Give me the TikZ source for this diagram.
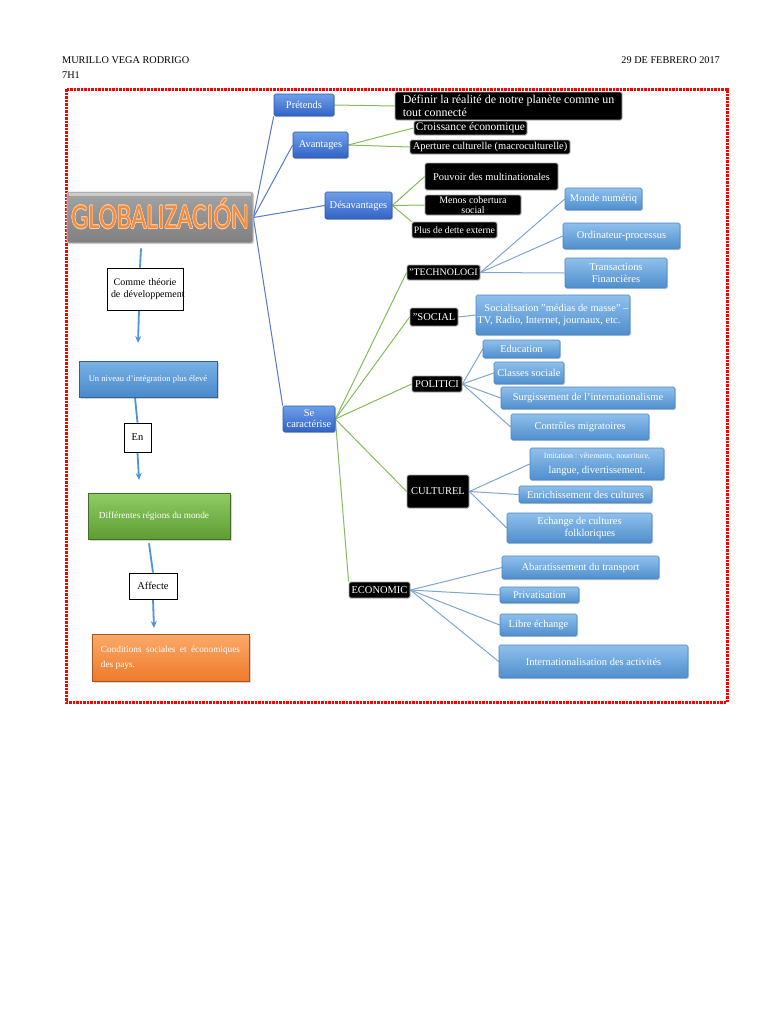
\documentclass[tikz,border=0pt]{standalone}
\usepackage{fontspec}
\usepackage{graphicx}
\usepackage{contour}
\setmainfont{Liberation Serif}
\newfontfamily\globfont{Carlito}
\usetikzlibrary{arrows.meta,shadows}
\pgfdeclarelayer{bg}
\pgfsetlayers{bg,main}
\definecolor{dbT}{HTML}{6E9FEA}
\definecolor{dbB}{HTML}{3263C6}
\definecolor{dbD}{HTML}{2C58A8}
\definecolor{lbT}{HTML}{8FC0EC}
\definecolor{lbB}{HTML}{4F8ECD}
\definecolor{lbD}{HTML}{4A85C0}
\definecolor{cA}{HTML}{5A78C8}
\definecolor{cG}{HTML}{86BC5A}
\definecolor{cL}{HTML}{7FA5D2}
\definecolor{cArr}{HTML}{4D94DB}
\definecolor{orT}{HTML}{FBAA6A}
\definecolor{orB}{HTML}{EE7A2A}
\definecolor{grT}{HTML}{90CC64}
\definecolor{grB}{HTML}{5E9C34}
\definecolor{nvT}{HTML}{78B1E5}
\definecolor{nvB}{HTML}{4A8ACB}
\definecolor{globtxt}{HTML}{F28C3C}
\definecolor{globout}{HTML}{F9C9A2}
\definecolor{gT}{HTML}{A3A3A3}
\definecolor{gB}{HTML}{808080}
\contourlength{0.7bp}
\newcommand\bx[7]{\node[minimum width={(#4-#2)*1bp}, minimum height={(#5-#3)*1bp}, #6] (#1) at ({(#2+#4)/2},{(#3+#5)/2}) {#7};}
\tikzset{
  every node/.append style={inner sep=1bp, font=\fontsize{10.5}{11.5}\selectfont},
  dblue/.style={top color=dbT, bottom color=dbB, draw=dbD, line width=0.6bp, text=white, rounded corners=1.5bp,
    drop shadow={shadow xshift=1bp, shadow yshift=-1bp, opacity=0.35}},
  lblue/.style={top color=lbT, bottom color=lbB, draw=lbD, line width=0.6bp, text=white, rounded corners=1.5bp,
    drop shadow={shadow xshift=1bp, shadow yshift=-1bp, opacity=0.3}},
  blk/.style={fill=black, draw=gray!65, line width=0.8bp, text=white, rounded corners=1.5bp},
  lbox/.style={fill=white, draw=black, line width=0.8bp},
  gbox/.style={top color=gT, bottom color=gB, draw=gray!45, line width=0.8bp, rounded corners=2bp,
    drop shadow={shadow xshift=1bp, shadow yshift=-1bp, opacity=0.3}},
  nbox/.style={top color=nvT, bottom color=nvB, draw=nvB!70!black, line width=0.6bp, text=white,
    drop shadow={shadow xshift=1.5bp, shadow yshift=-1.5bp, opacity=0.35}},
  grbox/.style={top color=grT, bottom color=grB, draw=grB!70!black, line width=0.6bp, text=white,
    drop shadow={shadow xshift=1.5bp, shadow yshift=-1.5bp, opacity=0.35}},
  obox/.style={top color=orT, bottom color=orB, draw=orB!70!black, line width=0.6bp, text=white,
    drop shadow={shadow xshift=1.5bp, shadow yshift=-1.5bp, opacity=0.35}},
  lA/.style={draw=cA, line width=1bp},
  lG/.style={draw=cG, line width=1bp},
  lL/.style={draw=cL, line width=1bp},
  arrln/.style={draw=cArr, line width=1.8bp},
  arrtip/.style={draw=cArr, line width=1.8bp, -{Stealth[length=7bp,width=6bp]}},
  hdr/.style={font=\fontsize{10.3}{12}\selectfont, inner sep=0pt}
}
\begin{document}
\begin{tikzpicture}[x=1bp,y=-1bp]
\useasboundingbox (0,0) rectangle (768,1024);

% header
\node[hdr, anchor=base west] (h1) at (62,63) {MURILLO VEGA RODRIGO};
\node[hdr, anchor=base west] (h2) at (62,78) {7H1};
\node[hdr, anchor=base east] (h3) at (720,63) {29 DE FEBRERO 2017};

% frame
\draw[red, line width=3bp, dash pattern=on 2.5bp off 1bp] (66,89) rectangle (727,702);

% main node
\bx{glob}{67}{192}{253}{243}{gbox, text height=22bp, text depth=0bp, text=globtxt}{\scalebox{0.77}[1]{\globfont\fontsize{35}{35}\selectfont\contour{globout}{GLOBALIZACIÓN}}}
\fill[white, opacity=0.45] ([xshift=2bp,yshift=-1bp]glob.north west) rectangle ([xshift=-2bp,yshift=-4bp]glob.north east);

% level 1
\bx{pret}{274}{94}{334}{116}{dblue}{Prétends}
\bx{avan}{293}{132}{348}{158}{dblue}{Avantages}
\bx{desa}{325}{192}{392}{219}{dblue}{Désavantages}
\bx{se}{283}{406}{335}{432}{dblue, align=center, font=\fontsize{10.5}{11}\selectfont}{Se\\caractérise}

% level 2 (black)
\bx{defi}{395}{92}{622}{120}{blk, align=left, font=\fontsize{12}{13}\selectfont}{Définir la réalité de notre planète comme un\\tout connecté}
\bx{croi}{414}{121}{527}{135}{blk, font=\fontsize{11.5}{12}\selectfont}{Croissance économique}
\bx{aper}{410}{140}{570}{154}{blk, font=\fontsize{10.5}{11}\selectfont}{Aperture culturelle (macroculturelle)}
\bx{pouv}{425}{163}{558}{190}{blk}{Pouvoir des multinationales}
\bx{meno}{425}{195}{521}{215}{blk, align=center, font=\fontsize{10}{10}\selectfont}{Menos cobertura\\social}
\bx{plus}{412}{222}{497}{238}{blk, font=\fontsize{9.8}{10}\selectfont}{Plus de dette externe}
\bx{tech}{407}{265}{480}{280}{blk, font=\fontsize{10}{10}\selectfont}{"TECHNOLOGI}
\bx{soci}{410}{308}{458}{326}{blk}{"SOCIAL}
\bx{poli}{412}{376}{462}{392}{blk}{POLITICI}
\bx{cult}{407}{475}{469}{508}{blk}{CULTUREL}
\bx{econ}{349}{582}{410}{598}{blk}{ECONOMIC}

% level 3 (light blue)
\bx{mond}{565}{188}{642}{210}{lblue}{Monde numériq}
\bx{ordi}{563}{223}{680}{249}{lblue}{Ordinateur-processus}
\bx{tran}{565}{258}{667}{288}{lblue, align=center}{Transactions\\Financières}
\bx{socl}{476}{295}{630}{335}{lblue, align=left}{\hspace{7bp}Socialisation "médias de masse" –\\TV, Radio, Internet, journaux, etc.}
\bx{educ}{483}{340}{560}{358}{lblue}{Education}
\bx{clas}{494}{362}{564}{384}{lblue}{Classes sociale}
\bx{surg}{501}{387}{675}{409}{lblue}{Surgissement de l'internationalisme}
\bx{cont}{511}{414}{649}{440}{lblue}{Contrôles migratoires}
\bx{imit}{530}{448}{664}{480}{lblue, align=center, font=\fontsize{10.5}{12}\selectfont}{{\fontsize{8}{8}\selectfont Imitation : vêtements, nourriture,}\\[3bp]langue, divertissement.}
\bx{enri}{519}{486}{652}{503}{lblue}{Enrichissement des cultures}
\bx{echa}{507}{513}{652}{543}{lblue, align=center}{Echange de cultures\qquad\\\qquad folkloriques}
\bx{abar}{502}{556}{659}{579}{lblue}{Abaratissement du transport}
\bx{priv}{500}{587}{579}{603}{lblue}{Privatisation}
\bx{libr}{500}{614}{577}{636}{lblue}{Libre échange}
\bx{inte}{499}{645}{688}{678}{lblue}{Internationalisation des activités}

% left column
\bx{comm}{107}{268}{183}{310}{lbox, text width=68bp, align=center, font=\fontsize{10}{12.5}\selectfont}{Comme théorie\\\mbox{de développement}}
\bx{nive}{79}{361}{217}{397}{nbox, font=\fontsize{8.6}{10}\selectfont}{Un niveau d'intégration plus élevé}
\bx{en}{124}{423}{151}{452}{lbox}{En}
\bx{diff}{88}{493}{230}{539}{grbox, font=\fontsize{9.3}{10}\selectfont}{\hspace{-10bp}Différentes régions du monde}
\bx{affe}{129}{573}{177}{599}{lbox}{Affecte}
\bx{cond}{92}{634}{249}{681}{obox, align=left, font=\fontsize{9.3}{15}\selectfont}{\makebox[139bp][s]{Conditions sociales et économiques}\\des pays.}

\coordinate (a1) at (138,343);
\coordinate (a2) at (139,480);
\coordinate (a3) at (154,628);

\begin{pgfonlayer}{bg}
  % left arrows
  \draw[arrln] ([xshift=-19bp,yshift=-5bp]glob.south) -- ([xshift=-5bp]comm.north);
  \draw[arrtip] ([xshift=-6bp]comm.south) -- (a1);
  \draw[arrln] ([xshift=-13bp]nive.south) -- (en.north);
  \draw[arrtip] (en.south) -- (a2);
  \draw[arrln] ([xshift=-10bp,yshift=-4bp]diff.south) -- (affe.north);
  \draw[arrtip] (affe.south) -- (a3);
  % main blue lines
  \draw[lA] (glob.east) -- (pret.south west);
  \draw[lA] (glob.east) -- (avan.west);
  \draw[lA] (glob.east) -- (desa.west);
  \draw[lA] (glob.east) -- (se.north west);
  % green lines
  \draw[lG] (pret.east) -- (defi.west);
  \draw[lG] (avan.east) -- (croi.west);
  \draw[lG] (avan.east) -- (aper.west);
  \draw[lG] (desa.east) -- (pouv.west);
  \draw[lG] (desa.east) -- (meno.west);
  \draw[lG] (desa.east) -- (plus.north west);
  \draw[lG] (se.east) -- (tech.west);
  \draw[lG] (se.east) -- (soci.west);
  \draw[lG] (se.east) -- (poli.west);
  \draw[lG] (se.east) -- (cult.west);
  \draw[lG] (se.east) -- (econ.north west);
  % light blue lines
  \draw[lL] (tech.east) -- (mond.west);
  \draw[lL] (tech.east) -- (ordi.west);
  \draw[lL] (tech.east) -- (tran.west);
  \draw[lL] (soci.east) -- (socl.west);
  \draw[lL] (poli.east) -- (educ.west);
  \draw[lL] (poli.east) -- (clas.west);
  \draw[lL] (poli.east) -- (surg.west);
  \draw[lL] (poli.east) -- (cont.west);
  \draw[lL] (cult.east) -- (imit.west);
  \draw[lL] (cult.east) -- (enri.west);
  \draw[lL] (cult.east) -- (echa.west);
  \draw[lL] (econ.east) -- (abar.west);
  \draw[lL] (econ.east) -- (priv.west);
  \draw[lL] (econ.east) -- (libr.west);
  \draw[lL] (econ.east) -- (inte.west);
\end{pgfonlayer}
\end{tikzpicture}
\end{document}
